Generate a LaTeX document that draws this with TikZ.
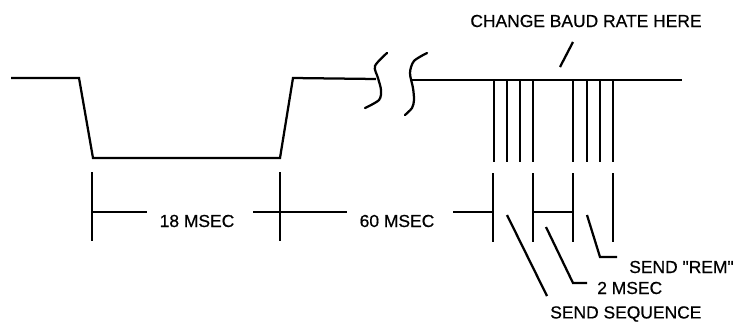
\documentclass[tikz,border=0pt]{standalone}
\usepackage{fontspec}
\setmainfont{Liberation Sans}[Ligatures=TeXOff, FakeBold=0.6]
\begin{document}
\begin{tikzpicture}[x=0.025cm, y=-0.025cm]
\tikzset{trait/.style={line width=1.6pt, line join=miter},
  etiq/.style={inner sep=0pt, font=\fontsize{12.4}{15}\selectfont}}
\useasboundingbox (0,0) rectangle (733,324);
\coordinate (S0) at (11,78);
\coordinate (S1) at (79,78);
\coordinate (S2) at (93,158);
\coordinate (S3) at (280,158);
\coordinate (S4) at (293,78);
\coordinate (S5) at (376,79);
\coordinate (S6) at (410,80);
\coordinate (S7) at (682,80);
\draw[trait] (S0) -- (S1) -- (S2) -- (S3) -- (S4) -- (S5);
\draw[trait] (S6) -- (S7);
\draw[trait, line cap=round] plot[smooth] coordinates {(387,53) (375,66) (378,78) (381,90) (379,100) (365,108)};
\draw[trait, line cap=round] plot[smooth] coordinates {(427,53) (414,61) (410,73) (413,88) (414,100) (412,108) (405,115)};
\foreach \x in {494,507,520,533,573,587,600,613}
  \draw[trait] (\x,80) -- (\x,162);
\foreach \x in {92,280}
  \draw[trait] (\x,172) -- (\x,241);
\foreach \x in {493,533,573,613}
  \draw[trait] (\x,173) -- (\x,242);
\node[etiq] (T18) at (197,221) {18 MSEC};
\node[etiq] (T60) at (397,221) {60 MSEC};
\node[etiq] (baud) at (586,21) {CHANGE BAUD RATE HERE};
\node[etiq, anchor=west] (seq) at (550,314) {SEND SEQUENCE};
\node[etiq, anchor=west] (deux) at (597,288) {2 MSEC};
\node[etiq, anchor=west] (rem) at (629,267) {SEND "REM"};
\draw[trait] (92,212) -- (147,212);
\draw[trait] (253,212) -- (347,212);
\draw[trait] (453,212) -- (493,212);
\draw[trait] (533,212) -- (573,212);
\coordinate (B1) at (573,42);
\coordinate (B2) at (560,67);
\draw[trait] (B1) -- (B2);
\coordinate (Q1) at (507,215);
\coordinate (Q2) at (547,296);
\draw[trait] (Q1) -- (Q2);
\coordinate (D1) at (546,227);
\coordinate (D2) at (573,283);
\coordinate (D3) at (587,283);
\draw[trait] (D1) -- (D2) -- (D3);
\coordinate (R1) at (587,215);
\coordinate (R2) at (600,257);
\coordinate (R3) at (617,257);
\draw[trait] (R1) -- (R2) -- (R3);
\end{tikzpicture}
\end{document}
